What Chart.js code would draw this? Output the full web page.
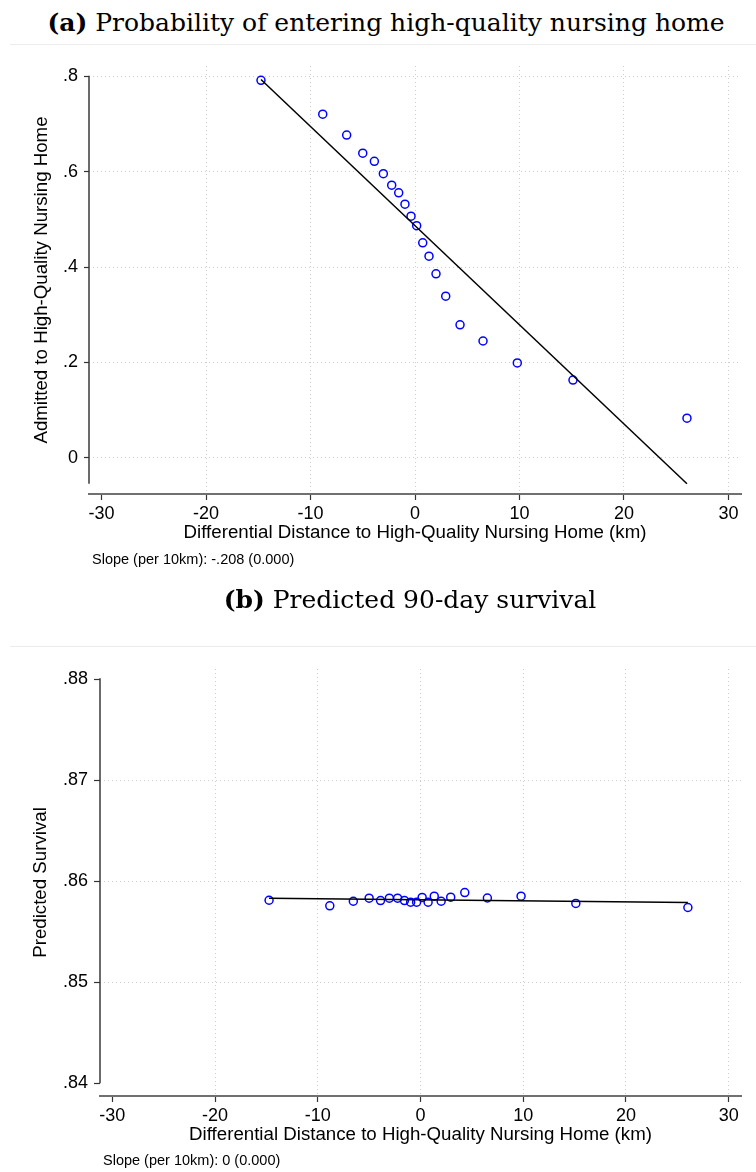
<!DOCTYPE html>
<html>
<head>
<meta charset="utf-8">
<script src="https://cdn.jsdelivr.net/npm/chart.js@4.4.0/dist/chart.umd.min.js"></script>
<style>
  body { margin: 0; background: #fff; width: 756px; height: 1172px; position: relative; overflow: hidden;
         font-family: "Liberation Sans", Arial, sans-serif; }
  .panel { position: absolute; left: 0; width: 756px; }
  .panel canvas { position: absolute; left: 0; top: 0; }
  .ttl { position: absolute; transform: translateX(-50%); font-family: "DejaVu Serif", serif; font-size: 25px;
         line-height: 25px; color: #000; white-space: nowrap; }
  .rule { position: absolute; left: 10px; right: 0; height: 1px; background: #ececec; }
  .note { position: absolute; font-size: 14.5px; line-height: 14.5px; color: #000; white-space: nowrap; }
</style>
</head>
<body>

<div class="ttl" style="left:386px; top:10px"><b>(a)</b> Probability of entering high-quality nursing home</div>
<div class="rule" style="top:44px"></div>
<div class="panel" style="top:0; height:590px">
  <canvas id="chartA" width="756" height="590"></canvas>
</div>
<div class="note" id="noteA" style="left:92px; top:552px"></div>

<div class="ttl" style="left:410px; top:587px"><b>(b)</b> Predicted 90-day survival</div>
<div class="rule" style="top:646px"></div>
<div class="panel" style="top:590px; height:582px">
  <canvas id="chartB" width="756" height="582"></canvas>
</div>
<div class="note" id="noteB" style="left:103px; top:1153px"></div>

<script>
// binned differential distance (km), same bins for both panels
const binDistance = [-14.74, -8.83, -6.54, -5.0, -3.89, -3.03, -2.23, -1.56, -0.96, -0.38,
                     0.16, 0.74, 1.34, 2.01, 2.94, 4.31, 6.51, 9.79, 15.12, 26.03];

// share admitted to a high-quality nursing home
const admittedHQ = [0.792, 0.721, 0.677, 0.639, 0.622, 0.596, 0.572, 0.556, 0.532, 0.507,
                    0.487, 0.451, 0.423, 0.386, 0.339, 0.279, 0.245, 0.199, 0.163, 0.083];

// predicted 90-day survival
const predSurvival = [0.85812, 0.85757, 0.85802, 0.85832, 0.85809, 0.85832, 0.85832, 0.85809, 0.85793, 0.85793,
                      0.85840, 0.85793, 0.85852, 0.85802, 0.85842, 0.85888, 0.85834, 0.85852, 0.85780, 0.85740];

// linear fits: intercept at 0 km, slope per 10 km, standard error
const fitA = { intercept: 0.487, slope10: -0.208, se: 0.000 };
const fitB = { intercept: 0.85816, slope10: -0.0001, se: 0.000 };

const xTicks = [-30, -20, -10, 0, 10, 20, 30];
const yTicksA = [0, 0.2, 0.4, 0.6, 0.8];
const yTicksB = [0.84, 0.85, 0.86, 0.87, 0.88];

const xTitle = 'Differential Distance to High-Quality Nursing Home (km)';
const yTitleA = 'Admitted to High-Quality Nursing Home';
const yTitleB = 'Predicted Survival';

Chart.defaults.font.family = '"Liberation Sans", Arial, sans-serif';
Chart.defaults.color = '#000';

// stata-style number: drop the leading zero
function stataNum(v, dp) {
    let s = v.toFixed(dp).replace(/0+$/, '').replace(/\.$/, '');
    if (s === '-0' || s === '') s = '0';
    return s.replace(/^(-?)0\./, '$1.');
}

function fitLine(fit) {
    const x0 = binDistance[0], x1 = binDistance[binDistance.length - 1];
    return [x0, x1].map(x => ({ x: x, y: fit.intercept + fit.slope10 / 10 * x }));
}

function slopeNote(fit) {
    return 'Slope (per 10km): ' + stataNum(fit.slope10, 3) + ' (' + fit.se.toFixed(3) + ')';
}

// y axis line only spans the data/tick range, like stata does
const yAxisLine = {
    id: 'yAxisLine',
    afterDraw(chart, args, opts) {
        const y = chart.scales.y, ctx = chart.ctx;
        const top = y.getPixelForValue(opts.from);
        const bot = y.getPixelForValue(opts.to);
        ctx.save();
        ctx.strokeStyle = '#3a3a3a';
        ctx.lineWidth = 1.5;
        ctx.beginPath();
        ctx.moveTo(y.right, top - 0.75);
        ctx.lineTo(y.right, bot);
        ctx.stroke();
        ctx.restore();
    }
};

function makeChart(id, cfg) {
    const pts = binDistance.map((x, i) => ({ x: x, y: cfg.values[i] }));
    const line = fitLine(cfg.fit);
    const lowest = Math.min(cfg.yTicks[0], ...line.map(p => p.y), ...cfg.values);

    return new Chart(document.getElementById(id), {
        type: 'scatter',
        data: {
            datasets: [
                { type: 'line', data: line, borderColor: '#000', borderWidth: 1.5, pointRadius: 0, fill: false },
                { data: pts, pointRadius: 4, pointBorderWidth: 1.5, pointBorderColor: '#0000ff',
                  pointBackgroundColor: 'rgba(0,0,0,0)' }
            ]
        },
        options: {
            responsive: false,
            animation: false,
            events: [],
            layout: { padding: cfg.padding },
            plugins: {
                legend: { display: false },
                tooltip: { enabled: false },
                yAxisLine: { from: cfg.yTicks[cfg.yTicks.length - 1], to: lowest }
            },
            scales: {
                x: {
                    type: 'linear',
                    min: -31.2,
                    max: 31.2,
                    afterBuildTicks: s => { s.ticks = xTicks.map(v => ({ value: v })); },
                    afterFit: s => { s.height = 50.5; },
                    ticks: { font: { size: 18 }, padding: 3, callback: v => String(v) },
                    grid: {
                        color: c => (c.tick && c.tick.value === -30) ? 'rgba(0,0,0,0)' : '#cccccc',
                        tickColor: '#333', tickLength: 6, tickWidth: 1.2
                    },
                    border: { display: true, color: '#707070', width: 2, dash: [1, 3] },
                    title: { display: true, text: xTitle, font: { size: 18.7 }, padding: 0 }
                },
                y: {
                    type: 'linear',
                    min: cfg.yMin,
                    max: cfg.yMax,
                    afterBuildTicks: s => { s.ticks = cfg.yTicks.map(v => ({ value: v })); },
                    afterFit: s => { s.width = cfg.yWidth; },
                    ticks: { font: { size: 18 }, padding: 6, callback: v => stataNum(v, 2) },
                    grid: {
                        color: c => (c.tick && cfg.hideGrid.includes(c.tick.value)) ? 'rgba(0,0,0,0)' : '#cccccc',
                        tickColor: '#333', tickLength: cfg.yTickLen, tickWidth: 1.2
                    },
                    border: { display: false, dash: [1, 3] },
                    title: { display: true, text: cfg.yTitle, font: { size: 18.7 }, padding: { top: cfg.yTitlePad } }
                }
            }
        },
        plugins: [yAxisLine]
    });
}

makeChart('chartA', {
    values: admittedHQ, fit: fitA, yTicks: yTicksA, yTitle: yTitleA,
    yMin: -0.076, yMax: 0.822, yWidth: 89, yTickLen: 5, yTitlePad: 31,
    hideGrid: [],
    padding: { left: 0, right: 15, top: 66, bottom: 45.5 }
});

makeChart('chartB', {
    values: predSurvival, fit: fitB, yTicks: yTicksB, yTitle: yTitleB,
    yMin: 0.83875, yMax: 0.881, yWidth: 100, yTickLen: 6, yTitlePad: 30,
    hideGrid: [0.84, 0.88],
    padding: { left: 0, right: 15, top: 79, bottom: 25.5 }
});

document.getElementById('noteA').textContent = slopeNote(fitA);
document.getElementById('noteB').textContent = slopeNote(fitB);
</script>
</body>
</html>
